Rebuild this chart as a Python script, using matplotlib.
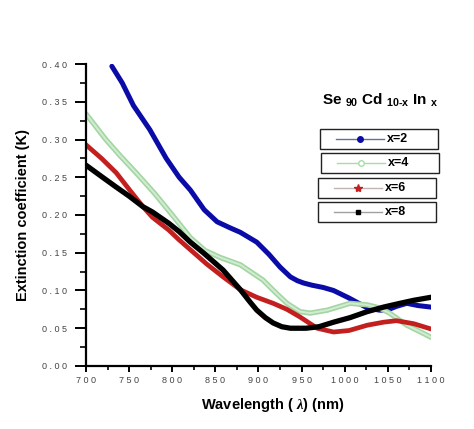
import matplotlib
matplotlib.use("Agg")
import matplotlib.pyplot as plt
from matplotlib.lines import Line2D
from matplotlib.patches import Rectangle
from matplotlib.ticker import MultipleLocator

plt.rcParams['font.family'] = ['Liberation Sans', 'DejaVu Sans']
plt.rcParams['mathtext.fontset'] = 'custom'
plt.rcParams['mathtext.rm'] = 'Liberation Sans:bold'
plt.rcParams['mathtext.it'] = 'Liberation Serif:italic:bold'

# data
wl_x2 = [730, 742, 755, 774, 793, 808, 821, 837, 852, 867, 879, 898, 912, 925,
         937, 945, 952, 962, 975, 987, 1005, 1026, 1040, 1049, 1060, 1072, 1085, 1100]
k_x2 = [0.397, 0.375, 0.345, 0.313, 0.275, 0.250, 0.233, 0.207, 0.191, 0.183,
        0.177, 0.164, 0.148, 0.131, 0.118, 0.113, 0.110, 0.107, 0.104, 0.100,
        0.090, 0.077, 0.074, 0.074, 0.079, 0.083, 0.080, 0.078]

wl_x4 = [700, 723, 740, 758, 780, 800, 821, 838, 855, 879, 905, 920, 933, 948,
         960, 980, 1006, 1026, 1040, 1052, 1072, 1088, 1100]
k_x4 = [0.334, 0.300, 0.278, 0.256, 0.228, 0.200, 0.170, 0.153, 0.144, 0.134,
        0.114, 0.097, 0.083, 0.072, 0.070, 0.074, 0.083, 0.081, 0.077, 0.070,
        0.054, 0.045, 0.038]

wl_x6 = [700, 718, 735, 750, 766, 777, 796, 808, 821, 840, 859, 879, 898, 917,
         933, 948, 968, 987, 1005, 1026, 1045, 1060, 1080, 1100]
k_x6 = [0.293, 0.275, 0.256, 0.234, 0.211, 0.197, 0.180, 0.167, 0.154, 0.135,
        0.118, 0.101, 0.091, 0.083, 0.075, 0.065, 0.050, 0.045, 0.047, 0.054,
        0.058, 0.060, 0.056, 0.049]

wl_x8 = [700, 718, 735, 750, 766, 777, 796, 808, 821, 836, 859, 879, 890, 898,
         908, 917, 927, 937, 955, 970, 987, 1006, 1026, 1045, 1064, 1080, 1100]
k_x8 = [0.266, 0.251, 0.237, 0.225, 0.211, 0.204, 0.189, 0.178, 0.164, 0.150,
        0.127, 0.101, 0.085, 0.074, 0.064, 0.057, 0.052, 0.050, 0.050, 0.052,
        0.058, 0.064, 0.072, 0.078, 0.083, 0.087, 0.091]

labels = ["x=2", "x=4", "x=6", "x=8"]
xticks = [700, 750, 800, 850, 900, 950, 1000, 1050, 1100]
yticks = [0.00, 0.05, 0.10, 0.15, 0.20, 0.25, 0.30, 0.35, 0.40]

fig = plt.figure(figsize=(4.74, 4.29), dpi=100)
ax = fig.add_axes([0.1814, 0.1469, 0.7279, 0.7039])

kw = dict(solid_capstyle='round', solid_joinstyle='round')
ax.plot(wl_x2, k_x2, color='#0b0ba8', lw=3.6, **kw)
ax.plot(wl_x4, k_x4, color='#a3d6a3', lw=3.8, **kw)
ax.plot(wl_x4, k_x4, color='#d2ecd2', lw=1.4, **kw)
ax.plot(wl_x6, k_x6, color='#c41f1f', lw=3.4, **kw)
ax.plot(wl_x8, k_x8, color='#000000', lw=3.8, **kw)

ax.set_xlim(700, 1100)
ax.set_ylim(0, 0.40)
ax.spines['top'].set_visible(False)
ax.spines['right'].set_visible(False)
for s in ['left', 'bottom']:
    ax.spines[s].set_linewidth(1.6)

ax.set_xticks(xticks, [" ".join(str(v)) for v in xticks])
ax.set_yticks(yticks, [" ".join("%.2f" % v) for v in yticks])
ax.xaxis.set_minor_locator(MultipleLocator(25))
ax.yaxis.set_minor_locator(MultipleLocator(0.025))
ax.tick_params(axis='y', which='major', length=8, width=1.4, pad=6,
               labelsize=6.5, labelcolor='#444444')
ax.tick_params(axis='y', which='minor', length=4, width=1.2)
ax.tick_params(axis='x', which='major', length=4, width=1.4, pad=3,
               labelsize=6.5, labelcolor='#444444')
ax.tick_params(axis='x', which='minor', length=3, width=1.2)

ax.set_ylabel("Extinction coefficient (K)", fontsize=10.5, fontweight='bold',
              labelpad=8)
ax.set_xlabel(r"Wavelength ( $\it{\lambda}$) (nm)", fontsize=10.5,
              fontweight='bold')
ax.xaxis.set_label_coords(0.54, -0.1)

fig.text(0.802, 0.766, r"Se $_{\mathrm{90}}$ Cd $_{\mathrm{10\text{-}x}}$ In $_{\mathrm{x}}$",
         fontsize=11, fontweight='bold', ha='center', va='center')

# legend: one framed box per sample
line_cols = ['#6c6c9c', '#a8dca8', '#c0b4b4', '#a0a0a0']
mk = ['o', 'o', '*', 's']
mk_face = ['#0b0ba8', 'white', '#c41f1f', 'black']
mk_edge = ['#0b0ba8', '#a8dca8', '#c41f1f', 'black']
mk_size = [4, 4, 6, 3.5]
box_x = [320, 321, 318, 318]
box_y = [129, 153, 178, 202]
W, H = 474.0, 429.0
for i, lab in enumerate(labels):
    bx, by = box_x[i], box_y[i]
    fig.add_artist(Rectangle((bx / W, 1 - (by + 20) / H), 118 / W, 20 / H,
                             transform=fig.transFigure, fill=False,
                             edgecolor='#222222', lw=1.0))
    yc = 1 - (by + 10) / H
    fig.add_artist(Line2D([(bx + 16) / W, (bx + 40) / W, (bx + 64) / W],
                          [yc, yc, yc], transform=fig.transFigure,
                          color=line_cols[i], lw=1, marker=mk[i],
                          markevery=[1], ms=mk_size[i], mfc=mk_face[i],
                          mec=mk_edge[i]))
    fig.text((bx + 67) / W, yc, lab, fontsize=9, fontweight='bold',
             ha='left', va='center')

fig.savefig("out.png", dpi=100)
